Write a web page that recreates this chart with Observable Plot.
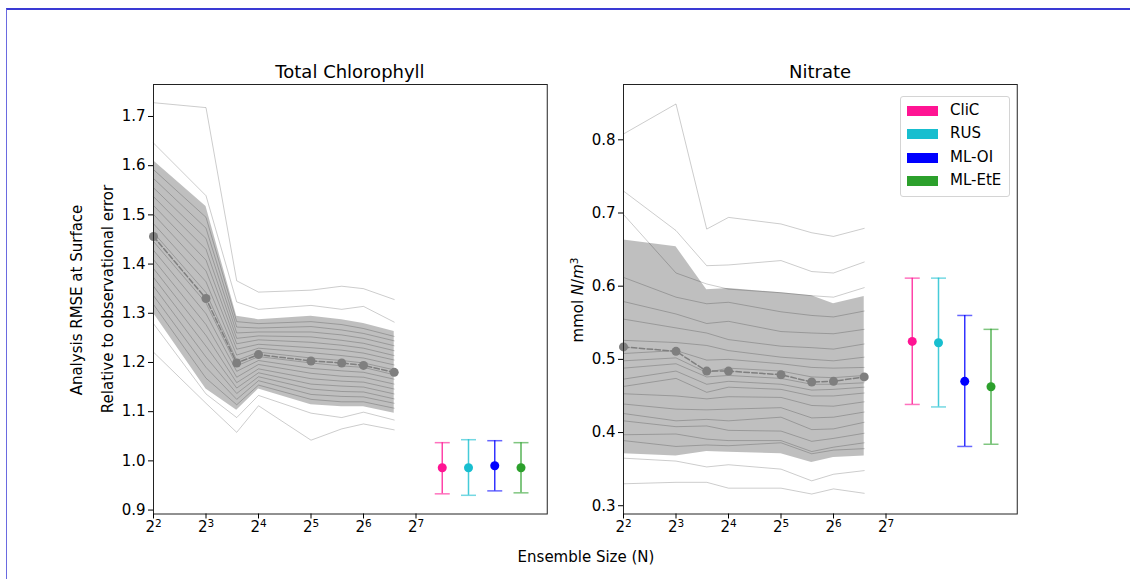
<!DOCTYPE html>
<html><head><meta charset="utf-8">
<script src="https://cdn.jsdelivr.net/npm/d3@7"></script>
<script src="https://cdn.jsdelivr.net/npm/@observablehq/plot@0.6"></script>
<style>
body{margin:0;background:#fff;font-family:"DejaVu Sans",sans-serif;}
#wrap{position:relative;width:1130px;height:579px;overflow:hidden;background:#fff;}
.abs{position:absolute;white-space:nowrap;color:#000;line-height:1.2;}
.c{transform:translate(-50%,-50%);}
.r{transform:translate(-50%,-50%) rotate(-90deg);}
svg{position:absolute;top:0;}
</style></head><body><div id="wrap"></div>
<script>
// ---------- data ----------
const ensembleSizes = [4, 8, 12, 16, 32, 48, 64, 96];

const chlMean  = [1.456, 1.330, 1.199, 1.216, 1.203, 1.199, 1.194, 1.180];
const chlUpper = [1.610, 1.517, 1.294, 1.287, 1.294, 1.287, 1.279, 1.263];
const chlLower = [1.300, 1.146, 1.103, 1.146, 1.114, 1.110, 1.110, 1.097];
const chlMembers = [
  [1.728, 1.718, 1.366, 1.343, 1.347, 1.355, 1.350, 1.328],
  [1.646, 1.539, 1.323, 1.308, 1.316, 1.308, 1.314, 1.282],
  [1.592, 1.495, 1.283, 1.279, 1.283, 1.277, 1.269, 1.253],
  [1.574, 1.473, 1.272, 1.270, 1.273, 1.266, 1.259, 1.244],
  [1.555, 1.452, 1.260, 1.262, 1.262, 1.256, 1.249, 1.234],
  [1.537, 1.430, 1.249, 1.254, 1.252, 1.245, 1.239, 1.224],
  [1.519, 1.408, 1.238, 1.246, 1.241, 1.235, 1.229, 1.214],
  [1.501, 1.386, 1.227, 1.237, 1.230, 1.225, 1.219, 1.205],
  [1.482, 1.364, 1.215, 1.229, 1.220, 1.214, 1.209, 1.195],
  [1.464, 1.342, 1.204, 1.221, 1.209, 1.204, 1.199, 1.185],
  [1.446, 1.321, 1.193, 1.212, 1.199, 1.193, 1.190, 1.175],
  [1.428, 1.299, 1.182, 1.204, 1.188, 1.183, 1.180, 1.166],
  [1.409, 1.277, 1.170, 1.196, 1.178, 1.172, 1.170, 1.156],
  [1.391, 1.255, 1.159, 1.187, 1.167, 1.162, 1.160, 1.146],
  [1.373, 1.233, 1.148, 1.179, 1.156, 1.152, 1.150, 1.136],
  [1.355, 1.211, 1.137, 1.171, 1.146, 1.141, 1.140, 1.126],
  [1.336, 1.190, 1.125, 1.163, 1.135, 1.131, 1.130, 1.117],
  [1.318, 1.168, 1.114, 1.154, 1.125, 1.120, 1.120, 1.107],
  [1.279, 1.136, 1.088, 1.133, 1.097, 1.088, 1.099, 1.083],
  [1.221, 1.117, 1.058, 1.112, 1.042, 1.065, 1.075, 1.063]
];

const no3Mean  = [0.517, 0.511, 0.484, 0.484, 0.479, 0.469, 0.470, 0.476];
const no3Upper = [0.663, 0.654, 0.595, 0.597, 0.591, 0.587, 0.576, 0.586];
const no3Lower = [0.371, 0.368, 0.374, 0.373, 0.371, 0.359, 0.366, 0.368];
const no3Members = [
  [0.808, 0.849, 0.678, 0.694, 0.685, 0.673, 0.668, 0.679],
  [0.730, 0.676, 0.628, 0.629, 0.635, 0.620, 0.618, 0.633],
  [0.698, 0.618, 0.603, 0.596, 0.591, 0.587, 0.585, 0.598],
  [0.612, 0.585, 0.576, 0.578, 0.565, 0.560, 0.558, 0.566],
  [0.579, 0.562, 0.549, 0.552, 0.538, 0.536, 0.535, 0.541],
  [0.555, 0.543, 0.536, 0.527, 0.518, 0.516, 0.514, 0.521],
  [0.526, 0.523, 0.519, 0.512, 0.503, 0.500, 0.498, 0.503],
  [0.508, 0.512, 0.499, 0.500, 0.494, 0.489, 0.488, 0.489],
  [0.498, 0.502, 0.482, 0.488, 0.484, 0.476, 0.475, 0.478],
  [0.488, 0.494, 0.476, 0.478, 0.474, 0.466, 0.466, 0.468],
  [0.473, 0.484, 0.466, 0.470, 0.466, 0.458, 0.459, 0.462],
  [0.463, 0.474, 0.455, 0.462, 0.459, 0.450, 0.450, 0.454],
  [0.453, 0.450, 0.446, 0.449, 0.448, 0.437, 0.436, 0.442],
  [0.439, 0.432, 0.431, 0.432, 0.434, 0.420, 0.421, 0.428],
  [0.426, 0.416, 0.418, 0.416, 0.421, 0.404, 0.405, 0.414],
  [0.416, 0.408, 0.409, 0.403, 0.402, 0.388, 0.392, 0.399],
  [0.397, 0.398, 0.391, 0.389, 0.389, 0.374, 0.380, 0.386],
  [0.389, 0.381, 0.383, 0.382, 0.386, 0.371, 0.376, 0.378],
  [0.365, 0.361, 0.353, 0.356, 0.350, 0.334, 0.343, 0.348],
  [0.330, 0.332, 0.332, 0.324, 0.324, 0.316, 0.323, 0.317]
];

const methods = ["CliC", "RUS", "ML-OI", "ML-EtE"];
const methodLog2 = [7.5, 8, 8.5, 9];
const methodColors = ["#ff1493", "#17becf", "#0000ff", "#2ca02c"];

const chlMethodMid = [0.986, 0.986, 0.990, 0.986];
const chlMethodLo  = [0.933, 0.930, 0.939, 0.935];
const chlMethodHi  = [1.037, 1.043, 1.041, 1.037];

const no3MethodMid = [0.5245, 0.5227, 0.470, 0.4626];
const no3MethodLo  = [0.4384, 0.435, 0.381, 0.384];
const no3MethodHi  = [0.611, 0.611, 0.560, 0.541];

const xTicks = [4, 8, 16, 32, 64, 128];
const chlYTicks = [0.9, 1.0, 1.1, 1.2, 1.3, 1.4, 1.5, 1.6, 1.7];
const no3YTicks = [0.3, 0.4, 0.5, 0.6, 0.7, 0.8];

// ---------- drawing ----------
const wrap = document.getElementById("wrap");
const cap = {draw(ctx) { ctx.moveTo(-7.5, 0); ctx.lineTo(7.5, 0); }};

function panel(o) {
  const memberRows = o.members.flatMap((vals, i) => vals.map((v, j) => ({id: i, n: ensembleSizes[j], v})));
  const bandRows = ensembleSizes.map((n, j) => ({n, lo: o.lower[j], hi: o.upper[j]}));
  const meanRows = ensembleSizes.map((n, j) => ({n, v: o.mean[j]}));
  const mRows = methods.map((m, i) => ({m, n: 2 ** methodLog2[i], mid: o.mid[i], lo: o.lo[i], hi: o.hi[i]}));
  const svg = Plot.plot({
    width: 565, height: 579,
    marginLeft: o.ml, marginRight: o.mr, marginTop: 84, marginBottom: 65.5,
    style: {fontFamily: "DejaVu Sans", fontSize: "15px", color: "#000", background: "transparent", overflow: "visible"},
    x: {type: "log", base: 2, domain: [4, 2 ** 9.5]},
    y: {domain: o.ydomain},
    color: {domain: methods, range: methodColors},
    marks: [
      Plot.areaY(bandRows, {x: "n", y1: "lo", y2: "hi", fill: "#808080", fillOpacity: 0.5}),
      Plot.line(memberRows, {x: "n", y: "v", z: "id", stroke: "#000", strokeOpacity: 0.2, strokeWidth: 1}),
      Plot.line(meanRows, {x: "n", y: "v", stroke: "#7f7f7f", strokeWidth: 1.5, strokeDasharray: "5.5,2.4"}),
      Plot.dot(meanRows, {x: "n", y: "v", fill: "#7f7f7f", r: 4.5}),
      Plot.ruleX(mRows, {x: "n", y1: "lo", y2: "hi", stroke: "m", strokeWidth: 1.5, strokeOpacity: 0.8}),
      Plot.dot(mRows, {x: "n", y: "lo", symbol: cap, fill: "none", stroke: "m", strokeWidth: 1.5, strokeOpacity: 0.6}),
      Plot.dot(mRows, {x: "n", y: "hi", symbol: cap, fill: "none", stroke: "m", strokeWidth: 1.5, strokeOpacity: 0.6}),
      Plot.dot(mRows, {x: "n", y: "mid", fill: "m", r: 4.5}),
      Plot.frame({stroke: "#222", strokeWidth: 1}),
      Plot.axisX({ticks: xTicks, tickFormat: d => `2^${Math.round(Math.log2(d))}`, tickSize: 5, tickPadding: 2, label: null}),
      Plot.axisY({ticks: o.yticks, tickFormat: d3.format(".1f"), tickSize: 5, tickPadding: 3, label: null})
    ]
  });
  svg.style.left = o.left + "px";
  d3.select(svg).selectAll('g[aria-label="x-axis tick label"] text').each(function() {
    const [b, e] = this.textContent.split("^");
    const s = d3.select(this); s.text(null);
    s.append("tspan").text(b);
    s.append("tspan").attr("dy", "-0.45em").attr("font-size", "0.7em").text(e);
  });
  wrap.appendChild(svg);
}

panel({members: chlMembers, upper: chlUpper, lower: chlLower, mean: chlMean,
  mid: chlMethodMid, lo: chlMethodLo, hi: chlMethodHi,
  ydomain: [0.892, 1.765], yticks: chlYTicks, ml: 153, mr: 18.25, left: 0});
panel({members: no3Members, upper: no3Upper, lower: no3Lower, mean: no3Mean,
  mid: no3MethodMid, lo: no3MethodLo, hi: no3MethodHi,
  ydomain: [0.2887, 0.8756], yticks: no3YTicks, ml: 58, mr: 113.25, left: 565});

function label(html, x, y, cls, size) {
  const d = document.createElement("div");
  d.className = "abs " + cls;
  d.style.left = x + "px"; d.style.top = y + "px"; d.style.fontSize = size + "px";
  d.innerHTML = html;
  wrap.appendChild(d);
}
label("Total Chlorophyll", 350, 72, "c", 18);
label("Nitrate", 820, 72, "c", 18);
label("Ensemble Size (N)", 586, 557, "c", 15);
label("Analysis RMSE at Surface", 77, 300, "r", 15);
label("Relative to observational error", 108, 299, "r", 15);
label("mmol <i>N</i>/<i>m</i><sup style='font-size:0.7em;vertical-align:0.5em;line-height:0'>3</sup>", 578, 300, "r", 15);

// legend
const leg = document.createElement("div");
leg.style.cssText = "position:absolute;left:900px;top:96px;width:108px;height:99px;border:1px solid #d4d4d4;border-radius:3px;background:#fff;";
methods.forEach((m, i) => {
  const row = document.createElement("div");
  row.style.cssText = `position:absolute;left:6px;top:${8 + i * 23.3}px;height:12px;`;
  row.innerHTML = `<span style="position:absolute;left:0;top:1px;width:31px;height:10px;background:${methodColors[i]}"></span>` +
    `<span style="position:absolute;left:43px;top:-4px;font-size:15px;white-space:nowrap;line-height:1.2">${m}</span>`;
  leg.appendChild(row);
});
wrap.appendChild(leg);

// outer frame lines of the screenshot
const fr = document.createElement("div");
fr.style.cssText = "position:absolute;left:6px;top:8px;width:1200px;height:700px;border-top:2px solid #3a3ad4;border-left:1px solid #6a6ae0;";
wrap.appendChild(fr);
</script></body></html>
